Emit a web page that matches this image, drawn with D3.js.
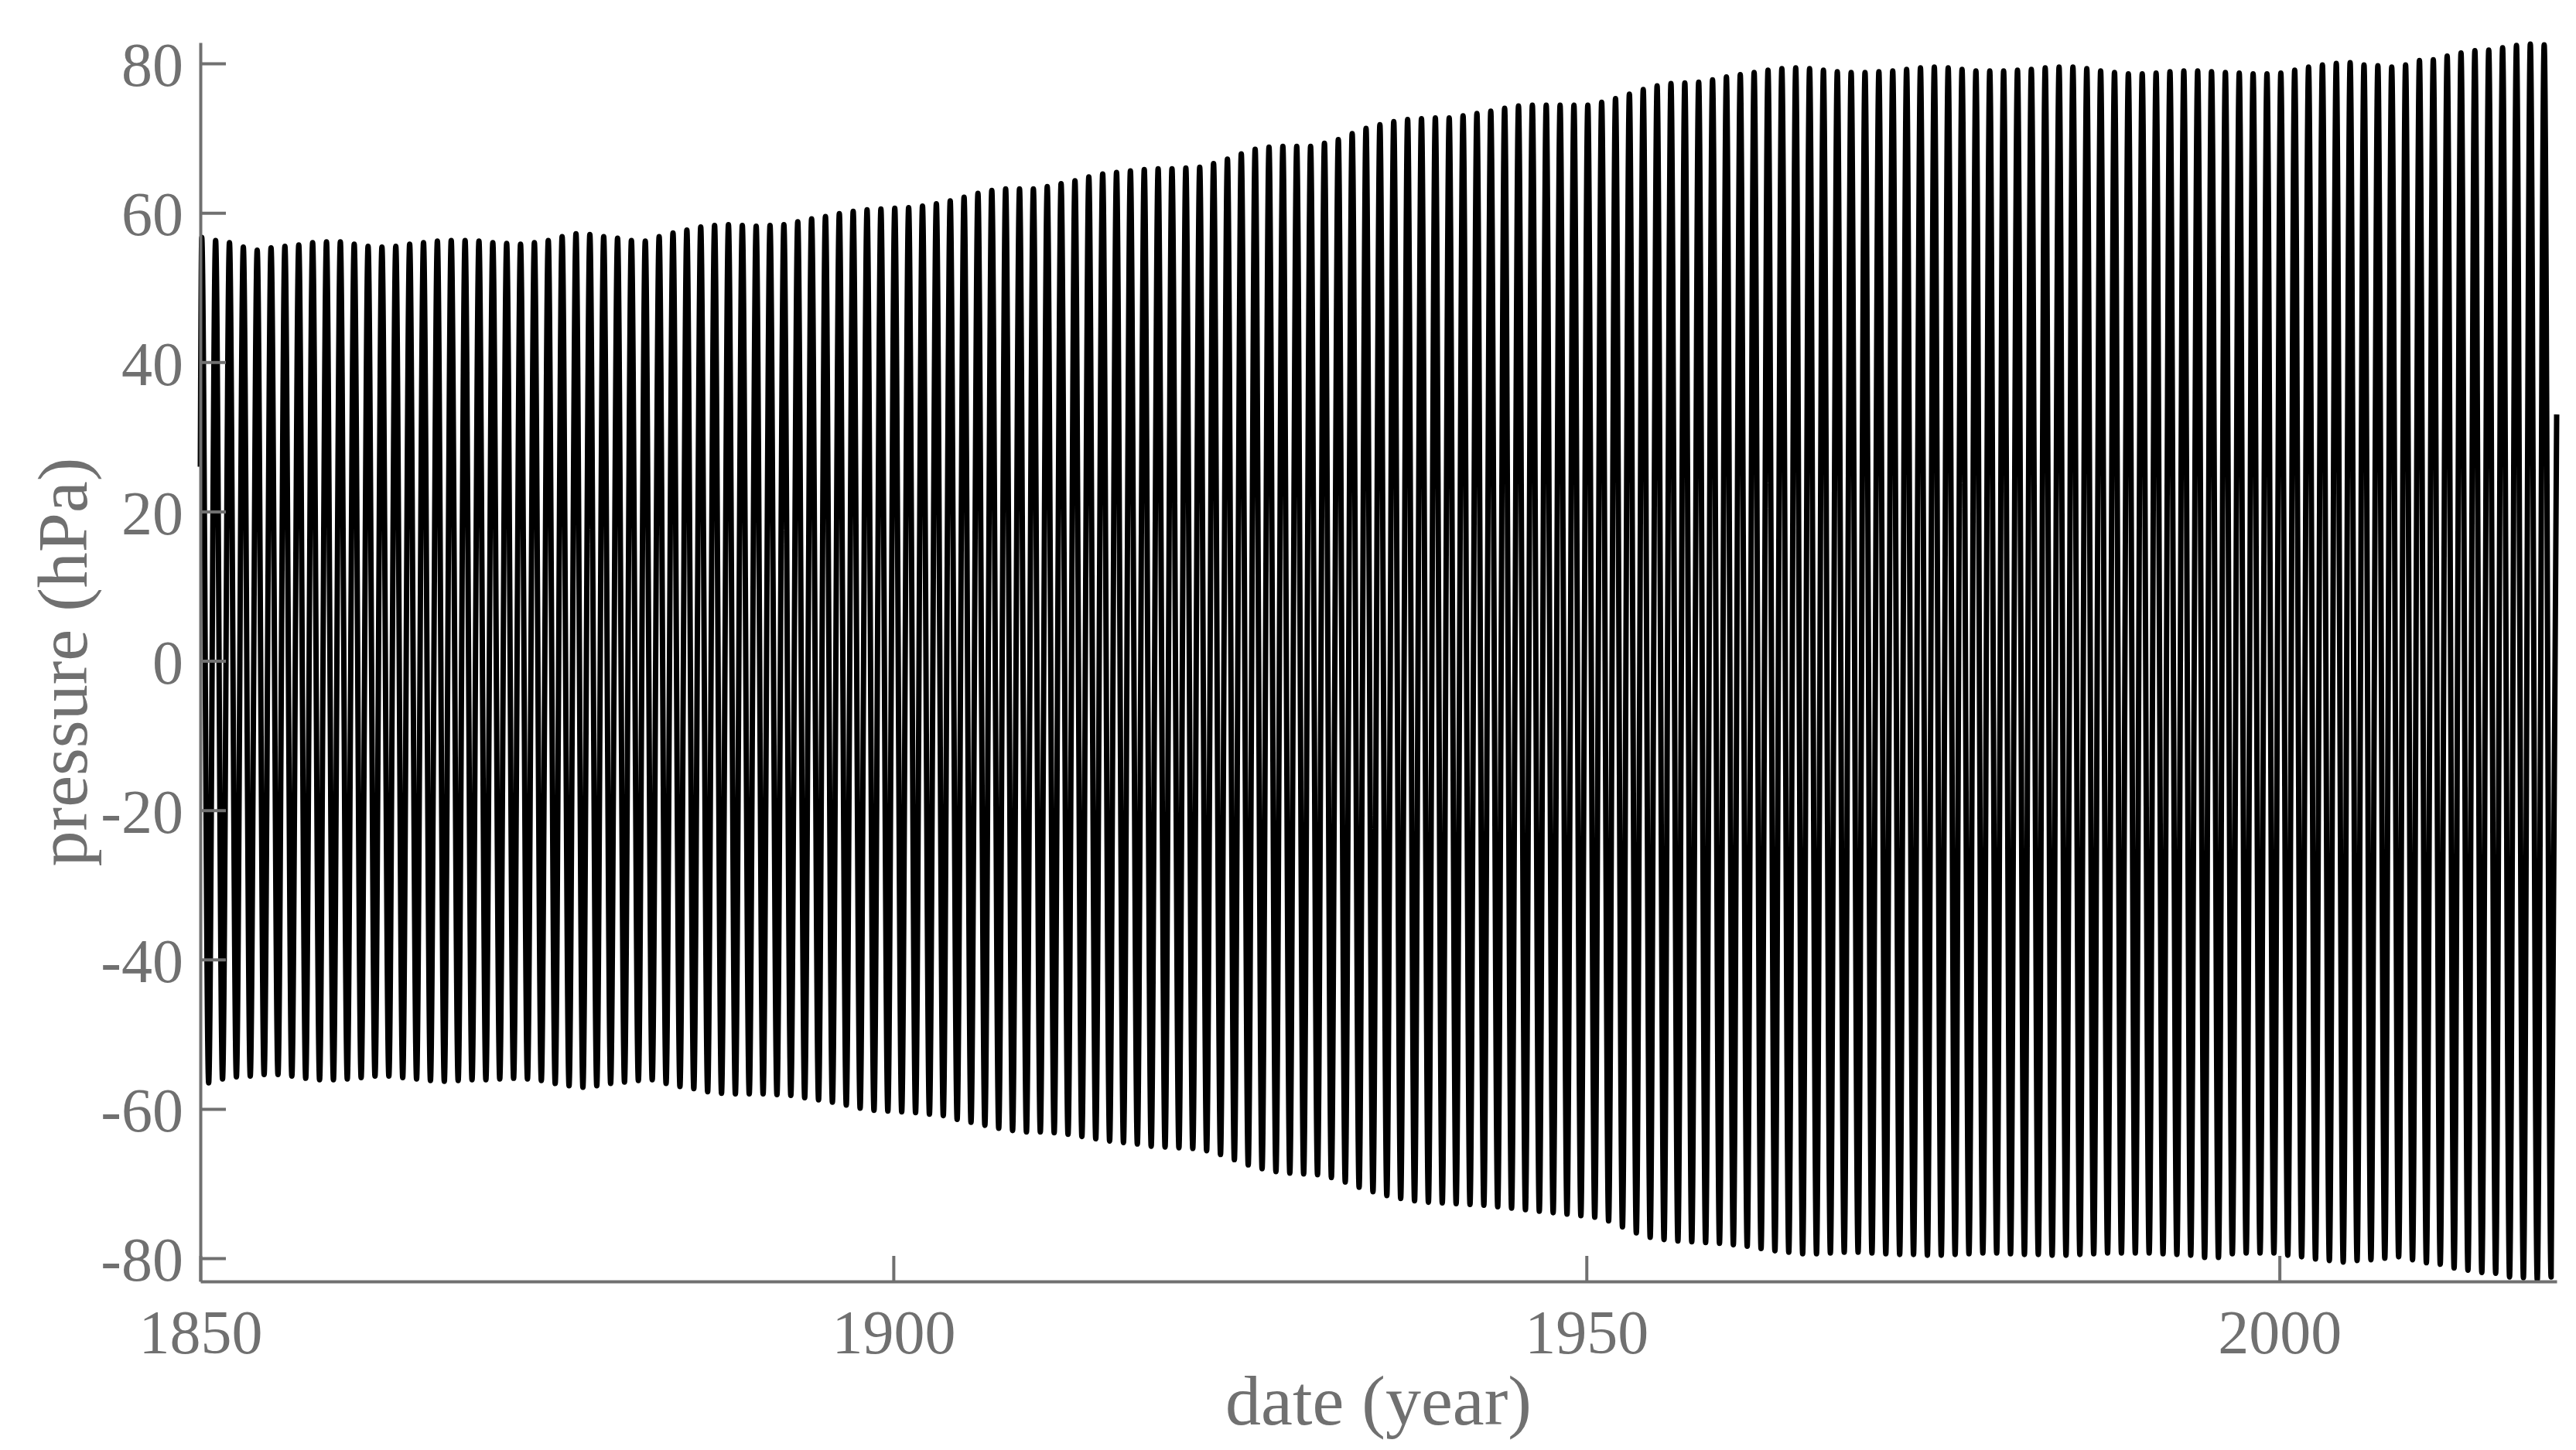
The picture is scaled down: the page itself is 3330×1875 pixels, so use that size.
<!DOCTYPE html>
<html>
<head>
<meta charset="utf-8">
<script src="https://cdn.jsdelivr.net/npm/d3@7"></script>
<style>
    body { margin: 0; background: #fff; }
    .tick-label { font-family: "Liberation Serif", serif; font-size: 80px; fill: #707070; }
    .axis-title { font-family: "Liberation Serif", serif; font-size: 92px; fill: #707070; }
</style>
</head>
<body>
<svg width="3330" height="1875"></svg>
<script>

// one peak (winter) and one trough (summer) per year
const years = d3.range(1850, 2020);

const peaks = [
    56.7, 56.3, 56.0, 55.4, 55.0, 55.3, 55.5, 55.7, 56.0, 56.1,
    56.1, 55.8, 55.5, 55.4, 55.5, 55.8, 56.0, 56.2, 56.3, 56.3,
    56.2, 56.0, 55.9, 55.8, 56.0, 56.3, 56.8, 57.2, 57.1, 56.8,
    56.6, 56.3, 56.2, 56.8, 57.3, 57.7, 58.1, 58.3, 58.4, 58.3,
    58.2, 58.3, 58.4, 58.8, 59.2, 59.5, 59.9, 60.2, 60.4, 60.5,
    60.6, 60.7, 60.9, 61.2, 61.6, 62.1, 62.6, 63.0, 63.2, 63.2,
    63.2, 63.5, 63.9, 64.3, 64.8, 65.2, 65.4, 65.6, 65.8, 65.9,
    65.9, 66.0, 66.1, 66.6, 67.2, 67.9, 68.5, 68.8, 68.9, 68.9,
    68.9, 69.3, 69.8, 70.6, 71.3, 71.8, 72.2, 72.5, 72.6, 72.7,
    72.7, 73.0, 73.3, 73.6, 74.0, 74.3, 74.4, 74.4, 74.4, 74.4,
    74.4, 74.8, 75.3, 75.9, 76.5, 77.0, 77.3, 77.4, 77.5, 77.8,
    78.2, 78.5, 78.8, 79.1, 79.3, 79.4, 79.3, 79.1, 78.9, 78.8,
    78.8, 78.9, 79.0, 79.2, 79.4, 79.5, 79.4, 79.2, 79.0, 79.0,
    79.0, 79.1, 79.2, 79.4, 79.5, 79.5, 79.3, 79.0, 78.8, 78.6,
    78.6, 78.7, 78.9, 79.0, 79.0, 78.9, 78.8, 78.7, 78.6, 78.6,
    78.7, 79.1, 79.5, 79.8, 80.0, 80.1, 79.8, 79.7, 79.5, 79.8,
    80.4, 80.5, 81.0, 81.4, 81.7, 81.8, 82.1, 82.4, 82.6, 82.5
];

const troughs = [
    -56.5, -56.0, -55.7, -55.6, -55.4, -55.4, -55.6, -55.9, -56.1, -56.1,
    -56.0, -55.8, -55.6, -55.6, -55.8, -56.0, -56.2, -56.3, -56.2, -56.1,
    -56.1, -56.0, -55.9, -56.0, -56.2, -56.6, -56.9, -57.1, -56.9, -56.6,
    -56.4, -56.2, -56.1, -56.6, -57.0, -57.3, -57.7, -57.9, -58.0, -58.0,
    -58.0, -58.1, -58.2, -58.5, -58.8, -59.1, -59.5, -59.9, -60.2, -60.3,
    -60.4, -60.5, -60.7, -60.9, -61.4, -61.8, -62.2, -62.6, -62.9, -63.1,
    -63.1, -63.2, -63.4, -63.7, -64.0, -64.3, -64.5, -64.7, -65.0, -65.1,
    -65.2, -65.3, -65.6, -66.1, -66.8, -67.5, -68.0, -68.4, -68.6, -68.7,
    -68.8, -69.2, -69.8, -70.5, -71.1, -71.6, -72.0, -72.3, -72.5, -72.6,
    -72.7, -72.8, -72.9, -73.1, -73.3, -73.5, -73.7, -73.9, -74.1, -74.3,
    -74.5, -75.0, -75.8, -76.6, -77.2, -77.5, -77.7, -77.8, -77.9, -78.0,
    -78.2, -78.4, -78.7, -79.0, -79.2, -79.4, -79.4, -79.3, -79.2, -79.2,
    -79.3, -79.4, -79.5, -79.5, -79.6, -79.6, -79.5, -79.4, -79.3, -79.3,
    -79.4, -79.5, -79.5, -79.6, -79.6, -79.5, -79.4, -79.3, -79.3, -79.3,
    -79.3, -79.4, -79.5, -79.6, -79.9, -79.9, -79.4, -79.3, -79.3, -79.3,
    -79.6, -79.8, -80.1, -80.3, -80.5, -80.3, -80.2, -80.0, -79.8, -80.2,
    -80.6, -80.8, -81.3, -81.6, -81.9, -82.0, -82.5, -82.6, -82.9, -82.5
];

// where in the year the extremes fall, and the two loose ends of the record
const peakOffset = 0.1;
const troughOffset = 0.6;
const startValue = 26;
const endValue = 33;

const xTicks = [1850, 1900, 1950, 2000];
const yTicks = [80, 60, 40, 20, 0, -20, -40, -60, -80];

const margin = {top: 55, right: 25, bottom: 218, left: 259};
const width = 3330 - margin.left - margin.right;
const height = 1875 - margin.top - margin.bottom;
const axisColor = "#707070";
const tickLength = 33;

const svg = d3.select("svg");

let xScale = d3.scaleLinear()
    .domain([1850, 2020])
    .range([margin.left, margin.left + width]);

let yScale = d3.scaleLinear()
    .domain([-83.1, 82.8])
    .range([margin.top + height, margin.top]);

//peaks and troughs in time order, the curve does the rounding
let points = [[1850, startValue]];
years.forEach((yr, i) => {
    points.push([yr + peakOffset, peaks[i]]);
    points.push([yr + troughOffset, troughs[i]]);
});
points.push([2020, endValue]);

const lineGen = d3.line()
    .x(d => xScale(d[0]))
    .y(d => yScale(d[1]))
    .curve(d3.curveMonotoneX);

svg.append("path")
    .datum(points)
    .attr("d", lineGen)
    .attr("fill", "none")
    .attr("stroke", "#000")
    .attr("stroke-width", 7)
    .attr("stroke-linejoin", "round");

//axes, matlab style: ticks pointing inwards, no box
//(with negative inner ticks d3 places the labels at tickPadding from the domain)
const xAxis = d3.axisBottom(xScale)
    .tickValues(xTicks)
    .tickFormat(d3.format("d"))
    .tickSizeInner(-tickLength)
    .tickSizeOuter(0)
    .tickPadding(40);

const yAxis = d3.axisLeft(yScale)
    .tickValues(yTicks)
    .tickFormat(d => d < 0 ? "-" + Math.abs(d) : d)
    .tickSizeInner(-tickLength)
    .tickSizeOuter(0)
    .tickPadding(22);

const gx = svg.append("g")
    .attr("transform", `translate(0,${margin.top + height})`)
    .call(xAxis);

const gy = svg.append("g")
    .attr("transform", `translate(${margin.left},0)`)
    .call(yAxis);

[gx, gy].forEach(g => {
    g.select(".domain")
        .attr("stroke", axisColor)
        .attr("stroke-width", 4);
    g.selectAll(".tick line")
        .attr("stroke", axisColor)
        .attr("stroke-width", 4);
    g.selectAll(".tick text")
        .attr("class", "tick-label")
        .attr("font-family", null)
        .attr("font-size", null)
        .attr("fill", null);
});

gx.selectAll(".tick text").attr("dy", "0.66em");
gy.selectAll(".tick text").attr("dy", "0.36em");

//axis titles
svg.append("text")
    .attr("class", "axis-title")
    .attr("x", margin.left + width / 2)
    .attr("y", 1842)
    .attr("text-anchor", "middle")
    .text("date (year)");

svg.append("text")
    .attr("class", "axis-title")
    .attr("transform", `translate(112,${margin.top + height / 2}) rotate(-90)`)
    .attr("text-anchor", "middle")
    .text("pressure (hPa)");

</script>
</body>
</html>
